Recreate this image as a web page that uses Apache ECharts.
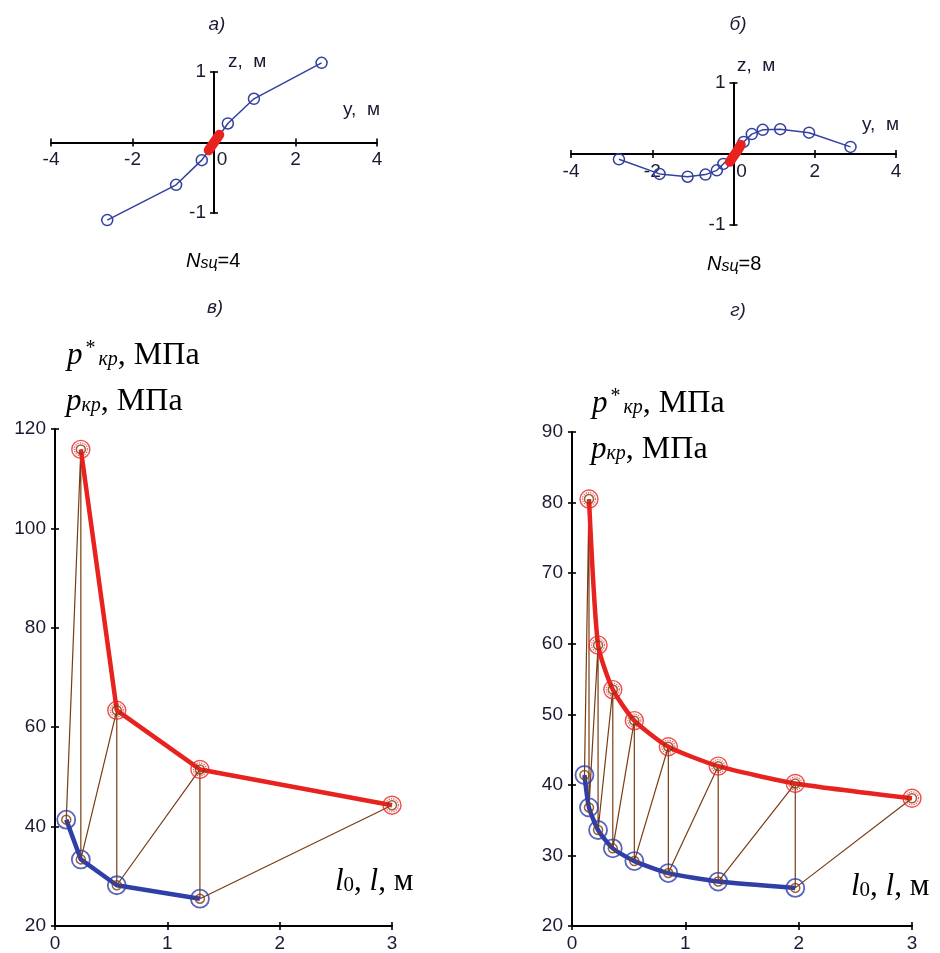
<!DOCTYPE html>
<html><head><meta charset="utf-8">
<script src="https://cdn.jsdelivr.net/npm/echarts@6/dist/echarts.min.js"></script>
<style>html,body{margin:0;padding:0;background:#fff}#c{width:940px;height:953px}</style>
</head><body><div id="c"></div>
<script>
// ---------- Panel а (Nsц=4): shape of rod, y (m) vs z (m)
const yA = [-2.62, -0.93, -0.30, 0.34, 0.98, 2.64];
const zA = [-1.10, -0.60, -0.25, 0.27, 0.62, 1.13];
const yA_red = [-0.13, -0.06, 0, 0.06, 0.13];
const zA_red = [-0.11, -0.05, 0, 0.05, 0.11];
// ---------- Panel б (Nsц=8)
const yB = [-2.82, -1.82, -1.13, -0.69, -0.41, -0.25, 0.25, 0.45, 0.72, 1.15, 1.86, 2.88];
const zB = [-0.075, -0.28, -0.32, -0.29, -0.23, -0.14, 0.17, 0.28, 0.34, 0.35, 0.30, 0.10];
const yB_red = [-0.09, 0.0, 0.05, 0.11, 0.18];
const zB_red = [-0.11, -0.03, 0.01, 0.06, 0.13];
// ---------- Panel в: p_kp (blue) and p*_kp (red) vs l0, l
const lBlueC = [0.10, 0.23, 0.55, 1.29];
const pBlueC = [41.4, 33.4, 28.2, 25.5];
const lRedC = [0.23, 0.55, 1.29, 3.0];
const pRedC = [115.9, 63.4, 51.5, 44.3];
// ---------- Panel г
const lBlueD = [0.11, 0.15, 0.23, 0.36, 0.55, 0.85, 1.29, 1.97];
const pBlueD = [41.4, 36.8, 33.6, 31.0, 29.2, 27.5, 26.3, 25.4];
const lRedD = [0.15, 0.23, 0.36, 0.55, 0.85, 1.29, 1.97, 3.0];
const pRedD = [80.5, 59.8, 53.5, 49.1, 45.4, 42.65, 40.2, 38.1];
// ---------- Tick labels
const topXTicks = [-4, -2, 0, 2, 4];
const topYTicks = [-1, 1];
const botXTicks = [0, 1, 2, 3];
const cYTicks = [20, 40, 60, 80, 100, 120];
const dYTicks = [20, 30, 40, 50, 60, 70, 80, 90];

const RED = '#e8221e', BLUE = '#2f3fa6', BROWN = '#7a3c12', NAVY = '#33409e';
const TXT = '#1a1a33';
const pairs = (xs, ys) => xs.map((v, i) => [v, ys[i]]);
const stair = (lb, pb, lr, pr) => {
  const out = [];
  for (let i = 0; i < lb.length; i++) { out.push([lb[i], pb[i]]); out.push([lr[i], pr[i]]); }
  return out;
};

const GRIDS = [
  { left: 51, top: 72, width: 326, height: 141 },
  { left: 571, top: 83, width: 325, height: 142 },
  { left: 55, top: 429, width: 337, height: 498 },
  { left: 572, top: 432, width: 340, height: 496 }
];

const lblBase = { color: TXT, fontSize: 19, fontFamily: 'Liberation Sans, Arial', margin: 8 };

function valAxis(grid, ticks, opts) {
  const main = Object.assign({
    type: 'value', gridIndex: grid,
    min: ticks[0], max: ticks[ticks.length - 1],
    interval: ticks[1] - ticks[0],
    splitLine: { show: false },
    axisLine: { show: true, onZero: false, lineStyle: { color: '#000', width: 2 } },
    axisTick: { show: true, length: 4, lineStyle: { color: '#000', width: 1.6 } },
    axisLabel: lblBase
  }, opts || {});
  const dup = Object.assign({}, main, {
    axisLine: { show: true, onZero: false, lineStyle: { opacity: 0 } },
    axisTick: { show: true, inside: true, length: 4, lineStyle: { color: '#000', width: 1.6 } },
    axisLabel: { show: false }
  });
  return [main, dup];
}

const tickFmt = (list) => (v) => (list.indexOf(v) >= 0 ? String(v) : '');
// x labels of top panels: "0" sits right of the vertical axis
const topXLabel = Object.assign({}, lblBase, {
  formatter: (v) => (v === 0 ? '{z|0}' : String(v)),
  rich: { z: { fontSize: 19, fontFamily: 'Liberation Sans, Arial', color: TXT, padding: [0, 0, 0, 16] } }
});
const topYLabel = Object.assign({}, lblBase, { formatter: tickFmt(topYTicks) });

// top panels: axes cross at zero (centre of the grid)
const xAxes = [].concat(
  valAxis(0, topXTicks, { position: 'bottom', offset: -GRIDS[0].height / 2, axisLabel: topXLabel }),
  valAxis(1, topXTicks, { position: 'bottom', offset: -GRIDS[1].height / 2, axisLabel: topXLabel }),
  valAxis(2, botXTicks, { position: 'bottom' }),
  valAxis(3, botXTicks, { position: 'bottom' })
);
const yAxes = [].concat(
  valAxis(0, topYTicks, { position: 'left', interval: 1, offset: -GRIDS[0].width / 2, axisLabel: topYLabel }),
  valAxis(1, topYTicks, { position: 'left', interval: 1, offset: -GRIDS[1].width / 2, axisLabel: topYLabel }),
  valAxis(2, cYTicks, { position: 'left', axisLabel: Object.assign({}, lblBase, { margin: 9 }) }),
  valAxis(3, dYTicks, { position: 'left', axisLabel: Object.assign({}, lblBase, { margin: 9 }) })
);

const ring = (color, size, bw, type) => ({
  symbol: 'circle', symbolSize: size,
  itemStyle: { color: 'rgba(0,0,0,0)', borderColor: color, borderWidth: bw, borderType: type || 'solid' }
});

function bottomSeries(xi, lb, pb, lr, pr, smooth) {
  const bd = pairs(lb, pb), rd = pairs(lr, pr);
  const all = bd.concat(rd);
  return [
    { type: 'line', xAxisIndex: xi, yAxisIndex: xi, data: stair(lb, pb, lr, pr), symbol: 'none',
      lineStyle: { color: BROWN, width: 1.2 }, clip: false, z: 2, silent: true },
    { type: 'line', xAxisIndex: xi, yAxisIndex: xi, data: rd, symbol: 'none', smooth: smooth,
      lineStyle: { color: RED, width: 4.5 }, clip: false, z: 3 },
    { type: 'line', xAxisIndex: xi, yAxisIndex: xi, data: bd, symbol: 'none', smooth: smooth,
      lineStyle: { color: BLUE, width: 4.5 }, clip: false, z: 3 },
    Object.assign({ type: 'scatter', xAxisIndex: xi, yAxisIndex: xi, data: rd, clip: false, z: 4 }, ring(RED, 18, 1.4)),
    Object.assign({ type: 'scatter', xAxisIndex: xi, yAxisIndex: xi, data: rd, clip: false, z: 4 }, ring(RED, 13, 1.2, 'dotted')),
    Object.assign({ type: 'scatter', xAxisIndex: xi, yAxisIndex: xi, data: bd, clip: false, z: 4 }, ring(BLUE, 18, 1.8)),
    Object.assign({ type: 'scatter', xAxisIndex: xi, yAxisIndex: xi, data: all, clip: false, z: 5 }, ring(BROWN, 9, 1.5))
  ];
}

function topSeries(xi, ys, zs, yr, zr) {
  return [
    { type: 'line', xAxisIndex: xi, yAxisIndex: xi, data: pairs(ys, zs), symbol: 'circle', symbolSize: 11,
      itemStyle: { color: 'rgba(0,0,0,0)', borderColor: NAVY, borderWidth: 1.5 },
      lineStyle: { color: NAVY, width: 1.5 }, clip: false, z: 3 },
    { type: 'line', xAxisIndex: xi, yAxisIndex: xi, data: pairs(yr, zr), symbol: 'none',
      lineStyle: { color: RED, width: 10, cap: 'round' }, clip: false, z: 4 }
  ];
}

const serif = 'Liberation Serif, Times New Roman, serif';
const sans = 'Liberation Sans, Arial, sans-serif';
const richP = {
  p: { fontFamily: serif, fontStyle: 'italic', fontSize: 31, color: '#111' },
  sup: { fontFamily: serif, fontSize: 20, color: '#111', verticalAlign: 'top', padding: [0, 3, 14, 3] },
  sub: { fontFamily: serif, fontStyle: 'italic', fontSize: 20, color: '#111', padding: [8, 0, 0, 0] },
  n: { fontFamily: serif, fontSize: 32, color: '#111' }
};
const richL = {
  l: { fontFamily: serif, fontStyle: 'italic', fontSize: 31, color: '#111' },
  sub: { fontFamily: serif, fontSize: 21, color: '#111', padding: [8, 0, 0, 0] },
  n: { fontFamily: serif, fontSize: 31, color: '#111' }
};
const richN = {
  N: { fontFamily: sans, fontStyle: 'italic', fontSize: 20, color: '#111' },
  s: { fontFamily: sans, fontStyle: 'italic', fontSize: 16, color: '#111', padding: [5, 0, 0, 0] },
  n: { fontFamily: sans, fontSize: 20, color: '#111' }
};
const txt = (x, y, text, extra) => ({
  type: 'text', x: x, y: y, silent: true,
  style: Object.assign({ text: text, fill: TXT, font: '18px ' + sans, textVerticalAlign: 'middle' }, extra || {})
});

const graphics = [
  txt(217, 25, 'а)', { font: 'italic 19px ' + sans, textAlign: 'center' }),
  txt(738, 25, 'б)', { font: 'italic 19px ' + sans, textAlign: 'center' }),
  txt(215, 308, 'в)', { font: 'italic 19px ' + sans, textAlign: 'center' }),
  txt(738, 311, 'г)', { font: 'italic 19px ' + sans, textAlign: 'center' }),
  txt(228, 62, 'z,  м', { font: '19px ' + sans }),
  txt(343, 110, 'y,  м', { font: '19px ' + sans }),
  txt(737, 66, 'z,  м', { font: '19px ' + sans }),
  txt(862, 125, 'y,  м', { font: '19px ' + sans }),
  { type: 'text', x: 186, y: 251, silent: true, style: { text: '{N|N}{s|sц}{n|=4}', rich: richN } },
  { type: 'text', x: 707, y: 254, silent: true, style: { text: '{N|N}{s|sц}{n|=8}', rich: richN } },
  { type: 'text', x: 67, y: 339, silent: true, style: { text: '{p|p}{sup|*}{sub|кр}{n|, МПа}', rich: richP } },
  { type: 'text', x: 66, y: 386, silent: true, style: { text: '{p|p}{sub|кр}{n|, МПа}', rich: richP } },
  { type: 'text', x: 592, y: 387, silent: true, style: { text: '{p|p}{sup|*}{sub|кр}{n|, МПа}', rich: richP } },
  { type: 'text', x: 591, y: 434, silent: true, style: { text: '{p|p}{sub|кр}{n|, МПа}', rich: richP } },
  { type: 'text', x: 335, y: 866, silent: true, style: { text: '{l|l}{sub|0}{n|, }{l|l}{n|, м}', rich: richL } },
  { type: 'text', x: 851, y: 871, silent: true, style: { text: '{l|l}{sub|0}{n|, }{l|l}{n|, м}', rich: richL } }
];

const option = {
  backgroundColor: '#fff',
  animation: false,
  grid: GRIDS.map(g => Object.assign({ containLabel: false }, g)),
  xAxis: xAxes.map((a, i) => Object.assign(a, { gridIndex: Math.floor(i / 2) })),
  yAxis: yAxes.map((a, i) => Object.assign(a, { gridIndex: Math.floor(i / 2) })),
  series: [].concat(
    topSeries(0, yA, zA, yA_red, zA_red),
    topSeries(2, yB, zB, yB_red, zB_red),
    bottomSeries(4, lBlueC, pBlueC, lRedC, pRedC, false),
    bottomSeries(6, lBlueD, pBlueD, lRedD, pRedD, 0.2)
  ),
  graphic: graphics
};
const chart = echarts.init(document.getElementById('c'), null, { renderer: 'canvas' });
chart.setOption(option);
</script>
</body></html>
